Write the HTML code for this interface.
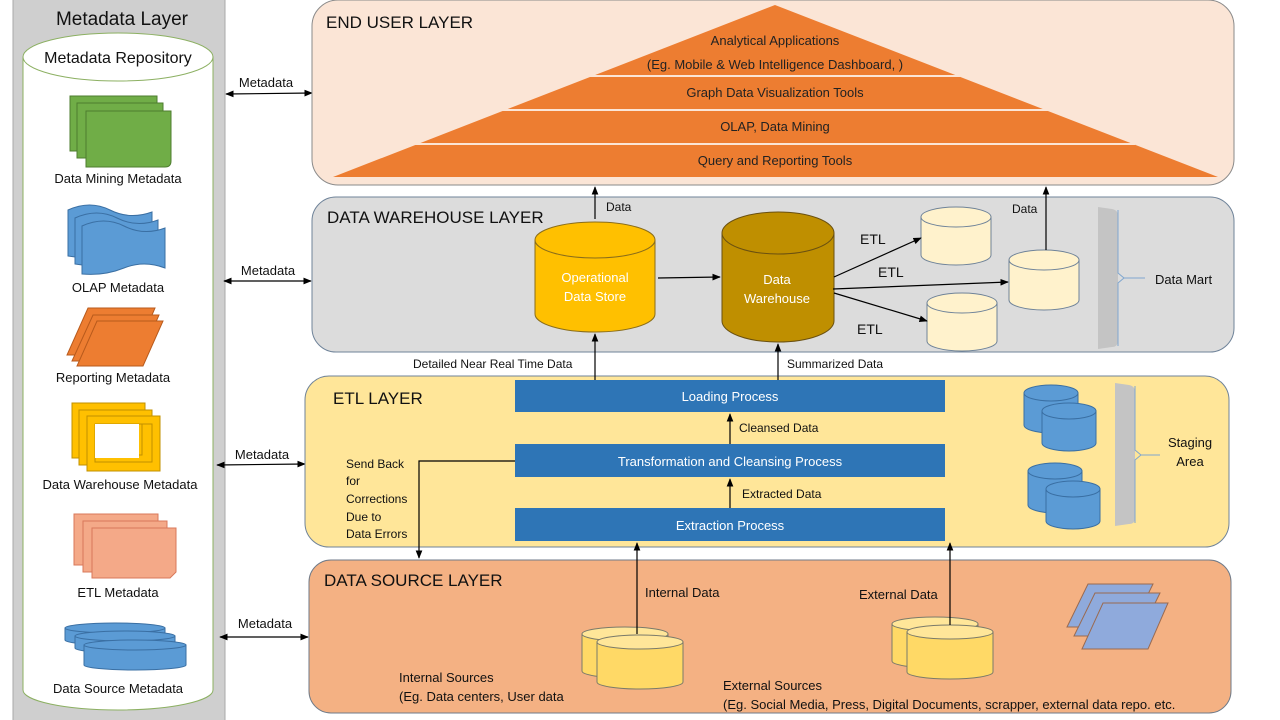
<!DOCTYPE html>
<html><head><meta charset="utf-8"><style>
html,body{margin:0;padding:0;background:#fff;}
svg{display:block;font-family:"Liberation Sans",sans-serif;}
</style></head><body>
<svg width="1280" height="720" viewBox="0 0 1280 720" xmlns="http://www.w3.org/2000/svg">
<defs>
<marker id="ah" viewBox="0 0 10 10" refX="9" refY="5" markerWidth="7" markerHeight="7" orient="auto-start-reverse"><path d="M0,1 L10,5 L0,9 z" fill="#000"/></marker>
</defs>
<rect x="13" y="-2" width="212" height="724" fill="#cfcfcf" stroke="#aaa"/>
<text x="122" y="25" font-size="19" text-anchor="middle" fill="#111">Metadata Layer</text>
<path d="M23 57 V690 A95 20 0 0 0 213 690 V57 Z" fill="#fff" stroke="#8cb062"/>
<ellipse cx="118" cy="57" rx="95" ry="24" fill="#fff" stroke="#8cb062"/>
<text x="118" y="63" font-size="16" text-anchor="middle" fill="#111">Metadata Repository</text>
<g fill="#70ad47" stroke="#4e7d2f">
<path d="M70 96 H157 V146 Q157 151 152 151 H70 Z"/>
<path d="M77 103 H163 V153 Q163 158 158 158 H77 Z"/>
<path d="M86 111 H171 V161 Q171 167 165 167 H86 Z"/>
</g>
<text x="118" y="183" font-size="13" text-anchor="middle" fill="#111">Data Mining Metadata</text>
<g fill="#5b9bd5" stroke="#3a6fa3">
<path d="M68 210 Q90 200 110 210 T152 212 V252 Q130 244 110 252 T68 256 Z"/>
<path d="M75 218 Q97 208 117 218 T158 220 V260 Q137 252 117 260 T75 264 Z"/>
<path d="M82 226 Q104 216 124 226 T165 228 V268 Q144 260 124 268 T82 274 Z"/>
</g>
<text x="118" y="292" font-size="13" text-anchor="middle" fill="#111">OLAP Metadata</text>
<g fill="#ed7d31" stroke="#b85a1c">
<path d="M88 308 H155 L135 355 H67 Z"/>
<path d="M93 315 H159 L139 361 H72 Z"/>
<path d="M97 321 H163 L143 366 H77 Z"/>
</g>
<text x="113" y="382" font-size="13" text-anchor="middle" fill="#111">Reporting Metadata</text>
<g fill="#ffc000" stroke="#c09000" fill-rule="evenodd">
<path d="M72 403 H145 V458 H72 Z M82 413 V448 H135 V413 Z"/>
<path d="M79 410 H152 V465 H79 Z M89 420 V455 H142 V420 Z"/>
<path d="M87 416 H160 V471 H87 Z M95 424 V462 H152 V424 Z"/>
</g>
<rect x="95" y="424" width="44" height="34" fill="#fff"/>
<text x="120" y="489" font-size="13" text-anchor="middle" fill="#111">Data Warehouse Metadata</text>
<g fill="#f4a988" stroke="#d9785a">
<path d="M74 514 H158 V565 H74 Z"/>
<path d="M83 521 H167 V572 H83 Z"/>
<path d="M92 528 H176 V572 L170 578 H92 Z"/>
</g>
<text x="118" y="597" font-size="13" text-anchor="middle" fill="#111">ETL Metadata</text>
<g fill="#5b9bd5" stroke="#3a6fa3">
<path d="M65 628 V640 A50 5 0 0 0 165 640 V628 Z"/><ellipse cx="115" cy="628" rx="50" ry="5"/>
<path d="M75 636 V648 A50 5 0 0 0 175 648 V636 Z"/><ellipse cx="125" cy="636" rx="50" ry="5"/>
<path d="M84 645 V665 A51 5 0 0 0 186 665 V645 Z"/><ellipse cx="135" cy="645" rx="51" ry="5"/>
</g>
<text x="118" y="693" font-size="13" text-anchor="middle" fill="#111">Data Source Metadata</text>

<g stroke="#000" stroke-width="1.2" marker-start="url(#ah)" marker-end="url(#ah)">
<line x1="226" y1="94" x2="312" y2="93"/>
<line x1="224" y1="281" x2="311" y2="281"/>
<line x1="217" y1="465" x2="305" y2="464"/>
<line x1="220" y1="637" x2="308" y2="637"/>
</g>
<g font-size="13" fill="#111" text-anchor="middle">
<text x="266" y="87">Metadata</text>
<text x="268" y="275">Metadata</text>
<text x="262" y="459">Metadata</text>
<text x="265" y="628">Metadata</text>
</g>

<rect x="312" y="0" width="922" height="185" rx="26" fill="#fbe5d6" stroke="#8a8a8a"/>
<text x="326" y="28" font-size="17" fill="#111">END USER LAYER</text>
<path d="M775 5 L1218 177 H333 Z" fill="#ed7d31"/>
<g stroke="#fbe5d6" stroke-width="2">
<line x1="590" y1="76" x2="960" y2="76"/>
<line x1="500" y1="110" x2="1050" y2="110"/>
<line x1="415" y1="144" x2="1135" y2="144"/>
</g>
<g font-size="13" fill="#222" text-anchor="middle">
<text x="775" y="45">Analytical Applications</text>
<text x="775" y="69">(Eg. Mobile &amp; Web Intelligence Dashboard, )</text>
<text x="775" y="97">Graph Data Visualization Tools</text>
<text x="775" y="131">OLAP, Data Mining</text>
<text x="775" y="165">Query and Reporting Tools</text>
</g>

<rect x="312" y="197" width="922" height="155" rx="24" fill="#dcdcdc" stroke="#6f8399"/>
<text x="327" y="223" font-size="17" fill="#111">DATA WAREHOUSE LAYER</text>
<path d="M535 240 V314 A60 18 0 0 0 655 314 V240 Z" fill="#ffc000" stroke="#8a6d1a"/>
<ellipse cx="595" cy="240" rx="60" ry="18" fill="#ffc000" stroke="#8a6d1a"/>
<text x="595" y="282" font-size="13" fill="#fff" text-anchor="middle">Operational</text>
<text x="595" y="301" font-size="13" fill="#fff" text-anchor="middle">Data Store</text>
<path d="M722 233 V321 A56 21 0 0 0 834 321 V233 Z" fill="#bf8f00" stroke="#6a5010"/>
<ellipse cx="778" cy="233" rx="56" ry="21" fill="#bf8f00" stroke="#6a5010"/>
<text x="777" y="284" font-size="13" fill="#fff" text-anchor="middle">Data</text>
<text x="777" y="303" font-size="13" fill="#fff" text-anchor="middle">Warehouse</text>
<g fill="#fff2cc" stroke="#6f8399">
<path d="M921 217 V255 A35 10 0 0 0 991 255 V217 Z"/><ellipse cx="956" cy="217" rx="35" ry="10"/>
<path d="M1009 260 V300 A35 10 0 0 0 1079 300 V260 Z"/><ellipse cx="1044" cy="260" rx="35" ry="10"/>
<path d="M927 303 V341 A35 10 0 0 0 997 341 V303 Z"/><ellipse cx="962" cy="303" rx="35" ry="10"/>
</g>
<path d="M1098 207 L1112 209 Q1118 210 1118 216 V340 Q1118 347 1112 347 L1098 349 Z" fill="#c4c4c4"/>
<path d="M1118 210 V273 L1124 278 L1118 283 V346 M1124 278 H1145" stroke="#7fa6cf" fill="none"/>
<text x="1155" y="284" font-size="13" fill="#111">Data Mart</text>
<g stroke="#000" stroke-width="1.2" fill="none" marker-end="url(#ah)">
<line x1="658" y1="278" x2="720" y2="277"/>
<line x1="834" y1="277" x2="921" y2="238"/>
<line x1="833" y1="289" x2="1008" y2="282"/>
<line x1="834" y1="293" x2="927" y2="321"/>
<line x1="595" y1="219" x2="595" y2="187"/>
<line x1="1046" y1="250" x2="1046" y2="187"/>
</g>
<g font-size="14" fill="#111">
<text x="860" y="244">ETL</text><text x="878" y="277">ETL</text><text x="857" y="334">ETL</text>
</g>
<text x="606" y="211" font-size="12" fill="#111">Data</text>
<text x="1012" y="213" font-size="12" fill="#111">Data</text>

<rect x="305" y="376" width="924" height="171" rx="24" fill="#ffe699" stroke="#6f8399"/>
<text x="333" y="404" font-size="17" fill="#111">ETL LAYER</text>
<g fill="#2e75b6">
<rect x="515" y="380" width="430" height="32"/>
<rect x="515" y="444" width="430" height="33"/>
<rect x="515" y="508" width="430" height="33"/>
</g>
<g font-size="13" fill="#fff" text-anchor="middle">
<text x="730" y="401">Loading Process</text>
<text x="730" y="466">Transformation and Cleansing Process</text>
<text x="730" y="530">Extraction Process</text>
</g>
<g font-size="12" fill="#111">
<text x="739" y="432">Cleansed Data</text>
<text x="742" y="498">Extracted Data</text>
<text x="413" y="368">Detailed Near Real Time Data</text>
<text x="787" y="368">Summarized Data</text>
<text x="346" y="468">Send Back</text>
<text x="346" y="485">for</text>
<text x="346" y="503">Corrections</text>
<text x="346" y="521">Due to</text>
<text x="346" y="538">Data Errors</text>
</g>
<g fill="#5b9bd5" stroke="#3a6fa3">
<path d="M1024 393 V425 A27 8 0 0 0 1078 425 V393 Z"/><ellipse cx="1051" cy="393" rx="27" ry="8"/>
<path d="M1042 411 V443 A27 8 0 0 0 1096 443 V411 Z"/><ellipse cx="1069" cy="411" rx="27" ry="8"/>
<path d="M1028 471 V505 A27 8 0 0 0 1082 505 V471 Z"/><ellipse cx="1055" cy="471" rx="27" ry="8"/>
<path d="M1046 489 V521 A27 8 0 0 0 1100 521 V489 Z"/><ellipse cx="1073" cy="489" rx="27" ry="8"/>
</g>
<path d="M1115 383 L1129 385 Q1135 386 1135 392 V518 Q1135 524 1129 524 L1115 526 Z" fill="#c4c4c4"/>
<path d="M1135 386 V450 L1141 455 L1135 460 V523 M1141 455 H1160" stroke="#7fa6cf" fill="none"/>
<text x="1190" y="447" font-size="13" fill="#111" text-anchor="middle">Staging</text>
<text x="1190" y="466" font-size="13" fill="#111" text-anchor="middle">Area</text>

<rect x="309" y="560" width="922" height="153" rx="22" fill="#f4b183" stroke="#6f7a88"/>
<text x="324" y="586" font-size="17" fill="#111">DATA SOURCE LAYER</text>
<g fill="#ffd966" stroke="#7a7a6a">
<path d="M582 634 V671 A43 7 0 0 0 668 671 V634 Z"/><ellipse cx="625" cy="634" rx="43" ry="7" fill="#ffe699"/>
<path d="M597 642 V682 A43 7 0 0 0 683 682 V642 Z"/><ellipse cx="640" cy="642" rx="43" ry="7" fill="#ffe699"/>
<path d="M892 624 V661 A43 7 0 0 0 978 661 V624 Z"/><ellipse cx="935" cy="624" rx="43" ry="7" fill="#ffe699"/>
<path d="M907 632 V672 A43 7 0 0 0 993 672 V632 Z"/><ellipse cx="950" cy="632" rx="43" ry="7" fill="#ffe699"/>
</g>
<g fill="#8faadc" stroke="#9a6a50">
<path d="M1088 584 H1153 L1132 627 H1067 Z"/>
<path d="M1095 593 H1160 L1139 636 H1074 Z"/>
<path d="M1103 603 H1168 L1148 649 H1082 Z"/>
</g>
<g stroke="#000" stroke-width="1.2" fill="none" marker-end="url(#ah)">
<line x1="730" y1="444" x2="730" y2="414"/>
<line x1="730" y1="508" x2="730" y2="479"/>
<line x1="595" y1="380" x2="595" y2="334"/>
<line x1="778" y1="380" x2="778" y2="344"/>
<polyline points="515,461 419,461 419,558"/>
<line x1="637" y1="634" x2="637" y2="543"/>
<line x1="950" y1="625" x2="950" y2="543"/>
</g>
<g font-size="13" fill="#111">
<text x="645" y="597">Internal Data</text>
<text x="859" y="599">External Data</text>
<text x="399" y="682">Internal Sources</text>
<text x="399" y="701">(Eg. Data centers, User data</text>
<text x="723" y="690">External Sources</text>
<text x="723" y="709">(Eg. Social Media, Press, Digital Documents, scrapper, external data repo. etc.</text>
</g>
</svg>
</body></html>
